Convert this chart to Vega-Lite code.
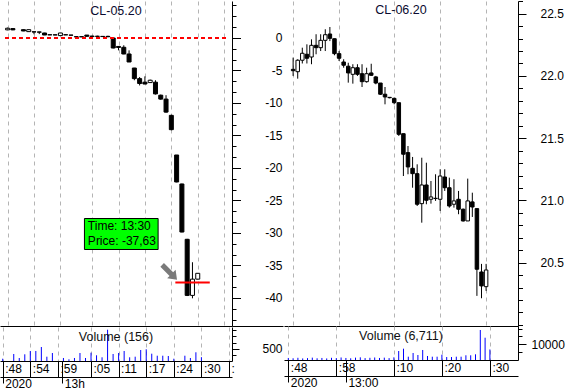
{
  "$schema": "https://vega.github.io/schema/vega-lite/v6.json",
  "padding": 0,
  "background": "#ffffff",
  "config": {
    "view": {"stroke": null},
    "font": "Liberation Sans",
    "axis": {"labelFont": "Liberation Sans", "labelFontSize": 12, "labelColor": "#000000", "domainColor": "#000000", "tickColor": "#000000", "gridColor": "#b4b4b4"},
    "title": {"font": "Liberation Sans", "fontSize": 12.5, "fontWeight": "normal", "color": "#0a0a30", "anchor": "middle", "frame": "group", "baseline": "alphabetic"}
  },
  "datasets": {
    "c05": [
      {"i": 0, "o": 1.25, "h": 1.6, "l": 1.2, "c": 1.5},
      {"i": 1, "o": 1.45, "h": 1.5, "l": 1.2, "c": 1.25},
      {"i": 3, "o": 1.28, "h": 1.3, "l": 1.05, "c": 1.08},
      {"i": 4, "o": 0.98, "h": 1.3, "l": 0.95, "c": 1.28},
      {"i": 5, "o": 0.95, "h": 0.97, "l": 0.57, "c": 0.93},
      {"i": 6, "o": 0.93, "h": 0.95, "l": 0.6, "c": 0.9},
      {"i": 7, "o": 0.77, "h": 0.8, "l": 0.45, "c": 0.46},
      {"i": 8, "o": 0.5, "h": 0.52, "l": 0.45, "c": 0.48},
      {"i": 9, "o": 0.49, "h": 0.52, "l": 0.44, "c": 0.47},
      {"i": 10, "o": 0.37, "h": 0.8, "l": 0.35, "c": 0.77},
      {"i": 11, "o": 0.5, "h": 0.52, "l": 0.45, "c": 0.48},
      {"i": 12, "o": 0.45, "h": 0.48, "l": 0.4, "c": 0.43},
      {"i": 13, "o": 0.2, "h": 0.22, "l": 0.15, "c": 0.18},
      {"i": 14, "o": 0.2, "h": 0.22, "l": 0.15, "c": 0.18},
      {"i": 15, "o": 0.45, "h": 0.46, "l": 0.2, "c": 0.26},
      {"i": 16, "o": 0.3, "h": 0.35, "l": 0.2, "c": 0.22},
      {"i": 17, "o": 0.27, "h": 0.35, "l": 0.2, "c": 0.25},
      {"i": 18, "o": 0.25, "h": 0.3, "l": 0.15, "c": 0.22},
      {"i": 19, "o": 0.25, "h": 0.35, "l": 0.12, "c": 0.2},
      {"i": 20, "o": 0.0, "h": 0.05, "l": -1.6, "c": -1.54},
      {"i": 21, "o": -1.3, "h": -1.25, "l": -1.9, "c": -1.45},
      {"i": 22, "o": -1.43, "h": -1.12, "l": -2.5, "c": -2.46},
      {"i": 23, "o": -2.46, "h": -1.9, "l": -3.7, "c": -3.69},
      {"i": 24, "o": -4.62, "h": -4.6, "l": -6.5, "c": -6.25},
      {"i": 25, "o": -6.25, "h": -6.0, "l": -7.3, "c": -7.0},
      {"i": 26, "o": -6.8, "h": -5.9, "l": -7.1, "c": -7.08},
      {"i": 27, "o": -6.86, "h": -6.4, "l": -6.9, "c": -6.5},
      {"i": 28, "o": -6.8, "h": -6.5, "l": -8.7, "c": -8.6},
      {"i": 29, "o": -8.8, "h": -8.7, "l": -9.5, "c": -9.4},
      {"i": 30, "o": -9.4, "h": -8.8, "l": -11.5, "c": -11.4},
      {"i": 31, "o": -11.9, "h": -11.8, "l": -14.2, "c": -14.1},
      {"i": 32, "o": -18.0, "h": -18.0, "l": -22.2, "c": -22.15},
      {"i": 33, "o": -22.46, "h": -22.4, "l": -29.9, "c": -29.85},
      {"i": 34, "o": -30.97, "h": -30.9, "l": -39.7, "c": -39.6},
      {"i": 35, "o": -39.6, "h": -34.5, "l": -40.05, "c": -37.1},
      {"i": 36, "o": -37.1, "h": -36.2, "l": -37.15, "c": -36.2}
    ],
    "v05": [
      {"i": 0, "v": 93}, {"i": 2, "v": 285}, {"i": 3, "v": 122}, {"i": 4, "v": 272},
      {"i": 5, "v": 407}, {"i": 6, "v": 407}, {"i": 7, "v": 569}, {"i": 8, "v": 175},
      {"i": 9, "v": 325}, {"i": 11, "v": 122}, {"i": 12, "v": 69}, {"i": 13, "v": 122},
      {"i": 14, "v": 325}, {"i": 15, "v": 122}, {"i": 16, "v": 337}, {"i": 17, "v": 232},
      {"i": 18, "v": 150}, {"i": 19, "v": 1272}, {"i": 20, "v": 285}, {"i": 21, "v": 325},
      {"i": 22, "v": 407}, {"i": 23, "v": 150}, {"i": 24, "v": 175}, {"i": 25, "v": 447},
      {"i": 26, "v": 476}, {"i": 27, "v": 297}, {"i": 28, "v": 215}, {"i": 29, "v": 215},
      {"i": 30, "v": 203}, {"i": 31, "v": 93}, {"i": 33, "v": 215}, {"i": 34, "v": 122},
      {"i": 35, "v": 354}, {"i": 36, "v": 156}
    ],
    "c06": [
      {"t": 48, "o": 22.053, "h": 22.147, "l": 22.0, "c": 22.042},
      {"t": 49, "o": 22.034, "h": 22.134, "l": 21.978, "c": 22.126},
      {"t": 50, "o": 22.126, "h": 22.227, "l": 22.1, "c": 22.182},
      {"t": 51, "o": 22.174, "h": 22.254, "l": 22.1, "c": 22.142},
      {"t": 52, "o": 22.152, "h": 22.294, "l": 22.094, "c": 22.246},
      {"t": 53, "o": 22.246, "h": 22.335, "l": 22.174, "c": 22.227},
      {"t": 54, "o": 22.227, "h": 22.335, "l": 22.2, "c": 22.286},
      {"t": 55, "o": 22.286, "h": 22.375, "l": 22.2, "c": 22.331},
      {"t": 56, "o": 22.337, "h": 22.393, "l": 22.28, "c": 22.302},
      {"t": 57, "o": 22.299, "h": 22.3, "l": 22.166, "c": 22.179},
      {"t": 58, "o": 22.179, "h": 22.2, "l": 22.12, "c": 22.142},
      {"t": 59, "o": 22.112, "h": 22.134, "l": 22.066, "c": 22.086},
      {"t": 60, "o": 22.078, "h": 22.106, "l": 21.946, "c": 22.024},
      {"t": 61, "o": 22.013, "h": 22.094, "l": 21.938, "c": 22.066},
      {"t": 62, "o": 22.066, "h": 22.094, "l": 22.0, "c": 22.013},
      {"t": 63, "o": 22.018, "h": 22.094, "l": 21.911, "c": 21.954},
      {"t": 64, "o": 21.954, "h": 22.066, "l": 21.946, "c": 22.018},
      {"t": 65, "o": 22.024, "h": 22.098, "l": 22.0, "c": 22.005},
      {"t": 66, "o": 21.992, "h": 22.0, "l": 21.933, "c": 21.943},
      {"t": 67, "o": 21.943, "h": 21.943, "l": 21.847, "c": 21.853},
      {"t": 68, "o": 21.853, "h": 21.911, "l": 21.772, "c": 21.831},
      {"t": 69, "o": 21.828, "h": 21.83, "l": 21.82, "c": 21.825},
      {"t": 70, "o": 21.82, "h": 21.825, "l": 21.772, "c": 21.785},
      {"t": 71, "o": 21.785, "h": 21.785, "l": 21.518, "c": 21.531},
      {"t": 72, "o": 21.536, "h": 21.536, "l": 21.196, "c": 21.371},
      {"t": 73, "o": 21.384, "h": 21.437, "l": 21.21, "c": 21.269},
      {"t": 74, "o": 21.258, "h": 21.349, "l": 21.102, "c": 21.215},
      {"t": 75, "o": 21.215, "h": 21.29, "l": 20.955, "c": 20.969},
      {"t": 76, "o": 20.974, "h": 21.343, "l": 20.821, "c": 21.124},
      {"t": 77, "o": 21.124, "h": 21.303, "l": 20.969, "c": 21.001},
      {"t": 78, "o": 21.009, "h": 21.156, "l": 20.974, "c": 21.028},
      {"t": 79, "o": 21.017, "h": 21.21, "l": 20.996, "c": 21.015},
      {"t": 80, "o": 21.009, "h": 21.25, "l": 20.915, "c": 21.196},
      {"t": 81, "o": 21.188, "h": 21.25, "l": 21.076, "c": 21.102},
      {"t": 82, "o": 21.102, "h": 21.183, "l": 20.942, "c": 20.955},
      {"t": 83, "o": 20.969, "h": 21.17, "l": 20.942, "c": 20.996},
      {"t": 84, "o": 21.009, "h": 21.076, "l": 20.889, "c": 20.929},
      {"t": 85, "o": 20.929, "h": 20.935, "l": 20.83, "c": 20.835},
      {"t": 86, "o": 20.835, "h": 21.175, "l": 20.835, "c": 20.996},
      {"t": 87, "o": 20.988, "h": 21.062, "l": 20.867, "c": 20.947},
      {"t": 88, "o": 20.934, "h": 20.934, "l": 20.233, "c": 20.447},
      {"t": 89, "o": 20.425, "h": 20.49, "l": 20.214, "c": 20.313},
      {"t": 90, "o": 20.307, "h": 20.49, "l": 20.273, "c": 20.441}
    ],
    "v06": [
      {"t": 48, "v": 1300}, {"t": 49, "v": 1100}, {"t": 50, "v": 1400}, {"t": 51, "v": 1000},
      {"t": 52, "v": 1200}, {"t": 53, "v": 1500}, {"t": 54, "v": 1100}, {"t": 55, "v": 1300},
      {"t": 56, "v": 1000}, {"t": 57, "v": 1400}, {"t": 58, "v": 1200}, {"t": 59, "v": 1600},
      {"t": 60, "v": 1300}, {"t": 61, "v": 1100}, {"t": 62, "v": 1500}, {"t": 63, "v": 1700},
      {"t": 64, "v": 1200}, {"t": 65, "v": 1400}, {"t": 66, "v": 1600}, {"t": 67, "v": 1300},
      {"t": 68, "v": 1500}, {"t": 69, "v": 1200}, {"t": 70, "v": 1700}, {"t": 71, "v": 5730},
      {"t": 72, "v": 7200}, {"t": 73, "v": 2100}, {"t": 74, "v": 4460}, {"t": 75, "v": 3180},
      {"t": 76, "v": 6370}, {"t": 77, "v": 2550}, {"t": 78, "v": 2100}, {"t": 79, "v": 2100},
      {"t": 80, "v": 3380}, {"t": 81, "v": 1900}, {"t": 82, "v": 1900}, {"t": 83, "v": 2100},
      {"t": 84, "v": 2100}, {"t": 85, "v": 3000}, {"t": 86, "v": 3000}, {"t": 87, "v": 3630},
      {"t": 88, "v": 19100}, {"t": 89, "v": 14200}, {"t": 90, "v": 6711}
    ]
  },
  "hconcat": [
    {
      "spacing": 0,
      "vconcat": [
        {
          "width": 232,
          "height": 325,
          "title": {"text": "CL-05.20", "offset": -16},
          "layer": [
            {
              "data": {"name": "c05"},
              "mark": {"type": "rule", "color": "#000000", "strokeWidth": 1},
              "encoding": {
                "x": {"field": "i", "type": "quantitative", "scale": {"domain": [-0.49, 41.54], "nice": false, "zero": false},
                  "axis": {"orient": "bottom", "values": [0, 5, 10, 16, 21, 26, 31, 36, 41], "grid": true, "gridDash": [4, 4], "gridColor": "#b4b4b4", "labels": false, "ticks": false, "domain": true, "title": null}},
                "y": {"field": "l", "type": "quantitative", "scale": {"domain": [-44.3077, 5.6923], "nice": false, "zero": false},
                  "axis": {"orient": "right", "values": [0, -5, -10, -15, -20, -25, -30, -35, -40], "tickSize": 8.5, "labelAlign": "right", "labelBaseline": "middle", "labelPadding": 41.5, "labelExpr": "datum.value < 0 ? '-' + abs(datum.value) : '' + datum.value", "domain": true, "grid": false, "title": null, "minExtent": 51, "maxExtent": 51}},
                "y2": {"field": "h"}
              }
            },
            {
              "data": {"name": "c05"},
              "mark": {"type": "bar", "width": 4, "stroke": "#000000", "strokeWidth": 1},
              "encoding": {
                "x": {"field": "i", "type": "quantitative", "scale": {"domain": [-0.49, 41.54], "nice": false, "zero": false}, "axis": null},
                "y": {"field": "o", "type": "quantitative", "scale": {"domain": [-44.3077, 5.6923], "nice": false, "zero": false},
                  "axis": {"orient": "right", "values": [5, 3.3333, 1.6667, 0, -1.6667, -3.3333, -5, -6.6667, -8.3333, -10, -11.6667, -13.3333, -15, -16.6667, -18.3333, -20, -21.6667, -23.3333, -25, -26.6667, -28.3333, -30, -31.6667, -33.3333, -35, -36.6667, -38.3333, -40, -41.6667, -43.3333], "tickSize": 4, "labels": false, "domain": false, "grid": false, "title": null, "minExtent": 51, "maxExtent": 51}},
                "y2": {"field": "c"},
                "fill": {"condition": {"test": "datum.c >= datum.o", "value": "#ffffff"}, "value": "#000000"}
              }
            },
            {
              "data": {"values": [{"level": 0, "a": -0.49, "b": 41.54}]},
              "mark": {"type": "rule", "stroke": "#ff0000", "strokeDash": [4, 3], "strokeWidth": 2, "strokeOpacity": 1},
              "encoding": {
                "x": {"field": "a", "type": "quantitative", "scale": {"domain": [-0.49, 41.54], "nice": false, "zero": false}, "axis": null},
                "x2": {"field": "b"},
                "y": {"field": "level", "type": "quantitative", "scale": {"domain": [-44.3077, 5.6923], "nice": false, "zero": false},
                  "axis": {"orient": "right", "values": [-44.3077], "tickSize": 51, "labels": false, "domain": false, "grid": false, "title": null, "minExtent": 51, "maxExtent": 51}}
              }
            },
            {
              "data": {"values": [{"from": 31.76, "to": 38.28, "p": -37.63}]},
              "mark": {"type": "rule", "color": "#ff0000", "strokeWidth": 2},
              "encoding": {
                "x": {"field": "from", "type": "quantitative", "scale": {"domain": [-0.49, 41.54], "nice": false, "zero": false}, "axis": null},
                "x2": {"field": "to"},
                "y": {"field": "p", "type": "quantitative", "scale": {"domain": [-44.3077, 5.6923], "nice": false, "zero": false}, "axis": null}
              }
            },
            {
              "data": {"values": [{"ax": 30.67, "ay": -36.05}]},
              "mark": {"type": "point", "shape": "M -1 -0.24 L 0.24 -0.24 L 0.24 -0.57 L 1 0 L 0.24 0.57 L 0.24 0.24 L -1 0.24 Z", "filled": true, "size": 441, "angle": 45, "color": "#7a7a7a", "opacity": 1},
              "encoding": {
                "x": {"field": "ax", "type": "quantitative", "scale": {"domain": [-0.49, 41.54], "nice": false, "zero": false}, "axis": null},
                "y": {"field": "ay", "type": "quantitative", "scale": {"domain": [-44.3077, 5.6923], "nice": false, "zero": false}, "axis": null}
              }
            },
            {
              "data": {"values": [{"x1": 14.55, "x2": 28.5, "y1": -27.77, "y2": -32.54}]},
              "mark": {"type": "rect", "fill": "#00ff00", "stroke": "#000000", "strokeWidth": 1},
              "encoding": {
                "x": {"field": "x1", "type": "quantitative", "scale": {"domain": [-0.49, 41.54], "nice": false, "zero": false}, "axis": null},
                "x2": {"field": "x2"},
                "y": {"field": "y1", "type": "quantitative", "scale": {"domain": [-44.3077, 5.6923], "nice": false, "zero": false}, "axis": null},
                "y2": {"field": "y2"}
              }
            },
            {
              "data": {"values": [{"tx": 15.2, "ty": -29.0, "label": "Time: 13:30"}, {"tx": 15.2, "ty": -31.17, "label": "Price: -37,63"}]},
              "mark": {"type": "text", "align": "left", "baseline": "middle", "font": "Liberation Sans", "fontSize": 12, "color": "#000000"},
              "encoding": {
                "x": {"field": "tx", "type": "quantitative", "scale": {"domain": [-0.49, 41.54], "nice": false, "zero": false}, "axis": null},
                "y": {"field": "ty", "type": "quantitative", "scale": {"domain": [-44.3077, 5.6923], "nice": false, "zero": false}, "axis": null},
                "text": {"field": "label"}
              }
            }
          ],
          "resolve": {"axis": {"x": "independent", "y": "independent"}}
        },
        {
          "width": 232,
          "height": 34,
          "title": {"text": "Volume (156)", "offset": -16.5, "color": "#101010"},
          "data": {"name": "v05"},
          "layer": [
            {
              "mark": {"type": "rule", "color": "#0000ff", "strokeWidth": 1},
              "encoding": {
                "x": {"field": "i", "type": "quantitative", "scale": {"domain": [-0.49, 41.54], "nice": false, "zero": false},
                  "axis": {"orient": "bottom", "values": [0, 5, 10, 16, 21, 26, 31, 36, 41], "grid": true, "gridDash": [4, 4], "gridColor": "#b4b4b4", "domain": true, "ticks": true, "tickSize": 16, "labels": true, "labelAlign": "left", "labelBaseline": "top", "labelPadding": -14, "labelOffset": 2, "labelFlush": false, "labelOverlap": false, "labelExpr": "datum.value == 0 ? ':48' : datum.value == 5 ? ':54' : datum.value == 10 ? ':59' : datum.value == 16 ? ':05' : datum.value == 21 ? ':11' : datum.value == 26 ? ':17' : datum.value == 31 ? ':24' : datum.value == 36 ? ':30' : ':'", "title": null, "minExtent": 16, "maxExtent": 16}},
                "y": {"field": "v", "type": "quantitative", "scale": {"domain": [0, 1382], "nice": false, "zero": false},
                  "axis": {"orient": "right", "values": [500], "format": "d", "tickSize": 7, "labelAlign": "right", "labelBaseline": "middle", "labelPadding": 43, "domain": true, "grid": false, "title": null, "minExtent": 51, "maxExtent": 51}},
                "y2": {"datum": 0}
              }
            },
            {
              "mark": {"type": "rule", "opacity": 0},
              "encoding": {
                "x": {"field": "i", "type": "quantitative", "scale": {"domain": [-0.49, 41.54], "nice": false, "zero": false},
                  "axis": {"orient": "bottom", "values": [10.8], "grid": false, "domain": false, "ticks": true, "tickSize": 16, "labels": false, "title": null, "minExtent": 16, "maxExtent": 16}},
                "y": {"field": "v", "type": "quantitative", "scale": {"domain": [0, 1382], "nice": false, "zero": false},
                  "axis": {"orient": "right", "values": [250, 750, 1000, 1250], "tickSize": 4, "labels": false, "domain": false, "grid": false, "title": null, "minExtent": 51, "maxExtent": 51}},
                "y2": {"datum": 0}
              }
            },
            {
              "mark": {"type": "rule", "opacity": 0},
              "encoding": {
                "x": {"field": "i", "type": "quantitative", "scale": {"domain": [-0.49, 41.54], "nice": false, "zero": false},
                  "axis": {"orient": "bottom", "offset": 16, "values": [0, 10.8], "grid": false, "domain": true, "ticks": true, "tickSize": 6, "labels": true, "labelAlign": "left", "labelBaseline": "top", "labelPadding": -5, "labelOffset": 2, "labelFlush": false, "labelOverlap": false, "labelExpr": "datum.value == 0 ? '2020' : '13h'", "title": null, "minExtent": 16, "maxExtent": 16}},
                "y": {"field": "v", "type": "quantitative", "scale": {"domain": [0, 1382], "nice": false, "zero": false}, "axis": null},
                "y2": {"datum": 0}
              }
            }
          ],
          "resolve": {"axis": {"x": "independent", "y": "independent"}}
        }
      ]
    },
    {
      "spacing": 0,
      "vconcat": [
        {
          "width": 234,
          "height": 325,
          "title": {"text": "CL-06.20", "offset": -16},
          "data": {"name": "c06"},
          "layer": [
            {
              "mark": {"type": "rule", "color": "#000000", "strokeWidth": 1},
              "encoding": {
                "x": {"field": "t", "type": "quantitative", "scale": {"domain": [47.104, 95.854], "nice": false, "zero": false},
                  "axis": {"orient": "bottom", "values": [48, 58, 70, 80, 90], "grid": true, "gridDash": [4, 4], "gridColor": "#b4b4b4", "labels": false, "ticks": false, "domain": true, "title": null}},
                "y": {"field": "l", "type": "quantitative", "scale": {"domain": [19.991, 22.602], "nice": false, "zero": false},
                  "axis": {"orient": "right", "values": [20.5, 21, 21.5, 22, 22.5], "format": ".1f", "tickSize": 8, "labelAlign": "left", "labelBaseline": "middle", "labelPadding": 14, "domain": true, "grid": false, "title": null, "minExtent": 51, "maxExtent": 51}},
                "y2": {"field": "h"}
              }
            },
            {
              "mark": {"type": "bar", "width": 3.5, "stroke": "#000000", "strokeWidth": 1},
              "encoding": {
                "x": {"field": "t", "type": "quantitative", "scale": {"domain": [47.104, 95.854], "nice": false, "zero": false}, "axis": null},
                "y": {"field": "o", "type": "quantitative", "scale": {"domain": [19.991, 22.602], "nice": false, "zero": false},
                  "axis": {"orient": "right", "values": [20.0, 20.1, 20.2, 20.3, 20.4, 20.5, 20.6, 20.7, 20.8, 20.9, 21.0, 21.1, 21.2, 21.3, 21.4, 21.5, 21.6, 21.7, 21.8, 21.9, 22.0, 22.1, 22.2, 22.3, 22.4, 22.5, 22.6], "tickSize": 4.5, "labels": false, "domain": false, "grid": false, "title": null, "minExtent": 51, "maxExtent": 51}},
                "y2": {"field": "c"},
                "fill": {"condition": {"test": "datum.c >= datum.o", "value": "#ffffff"}, "value": "#000000"}
              }
            }
          ],
          "resolve": {"axis": {"x": "independent", "y": "independent"}}
        },
        {
          "width": 234,
          "height": 34,
          "title": {"text": "Volume (6,711)", "offset": -16.5, "color": "#101010"},
          "data": {"name": "v06"},
          "layer": [
            {
              "mark": {"type": "rule", "color": "#0000ff", "strokeWidth": 1},
              "encoding": {
                "x": {"field": "t", "type": "quantitative", "scale": {"domain": [47.104, 95.854], "nice": false, "zero": false},
                  "axis": {"orient": "bottom", "values": [48, 58, 70, 80, 90], "grid": true, "gridDash": [4, 4], "gridColor": "#b4b4b4", "domain": true, "ticks": true, "tickSize": 16, "labels": true, "labelAlign": "left", "labelBaseline": "top", "labelPadding": -14, "labelOffset": 2, "labelFlush": false, "labelOverlap": false, "labelExpr": "datum.value == 48 ? ':48' : datum.value == 58 ? ':58' : datum.value == 70 ? ':10' : datum.value == 80 ? ':20' : ':30'", "title": null, "minExtent": 16, "maxExtent": 16}},
                "y": {"field": "v", "type": "quantitative", "scale": {"domain": [0, 21656], "nice": false, "zero": false},
                  "axis": {"orient": "right", "values": [10000], "format": "d", "tickSize": 8, "labelAlign": "left", "labelBaseline": "middle", "labelPadding": 5, "domain": true, "grid": false, "title": null, "minExtent": 51, "maxExtent": 51}},
                "y2": {"datum": 0}
              }
            },
            {
              "mark": {"type": "rule", "opacity": 0},
              "encoding": {
                "x": {"field": "t", "type": "quantitative", "scale": {"domain": [47.104, 95.854], "nice": false, "zero": false},
                  "axis": {"orient": "bottom", "values": [60], "grid": false, "domain": false, "ticks": true, "tickSize": 16, "labels": false, "title": null, "minExtent": 16, "maxExtent": 16}},
                "y": {"field": "v", "type": "quantitative", "scale": {"domain": [0, 21656], "nice": false, "zero": false},
                  "axis": {"orient": "right", "values": [5000, 15000, 20000], "tickSize": 4, "labels": false, "domain": false, "grid": false, "title": null, "minExtent": 51, "maxExtent": 51}},
                "y2": {"datum": 0}
              }
            },
            {
              "mark": {"type": "rule", "opacity": 0},
              "encoding": {
                "x": {"field": "t", "type": "quantitative", "scale": {"domain": [47.104, 95.854], "nice": false, "zero": false},
                  "axis": {"orient": "bottom", "offset": 16, "values": [48, 60], "grid": false, "domain": true, "ticks": true, "tickSize": 6, "labels": true, "labelAlign": "left", "labelBaseline": "top", "labelPadding": -5, "labelOffset": 2, "labelFlush": false, "labelOverlap": false, "labelExpr": "datum.value == 48 ? '2020' : '13:00'", "title": null, "minExtent": 16, "maxExtent": 16}},
                "y": {"field": "v", "type": "quantitative", "scale": {"domain": [0, 21656], "nice": false, "zero": false}, "axis": null},
                "y2": {"datum": 0}
              }
            }
          ],
          "resolve": {"axis": {"x": "independent", "y": "independent"}}
        }
      ]
    }
  ],
  "spacing": 0
}
